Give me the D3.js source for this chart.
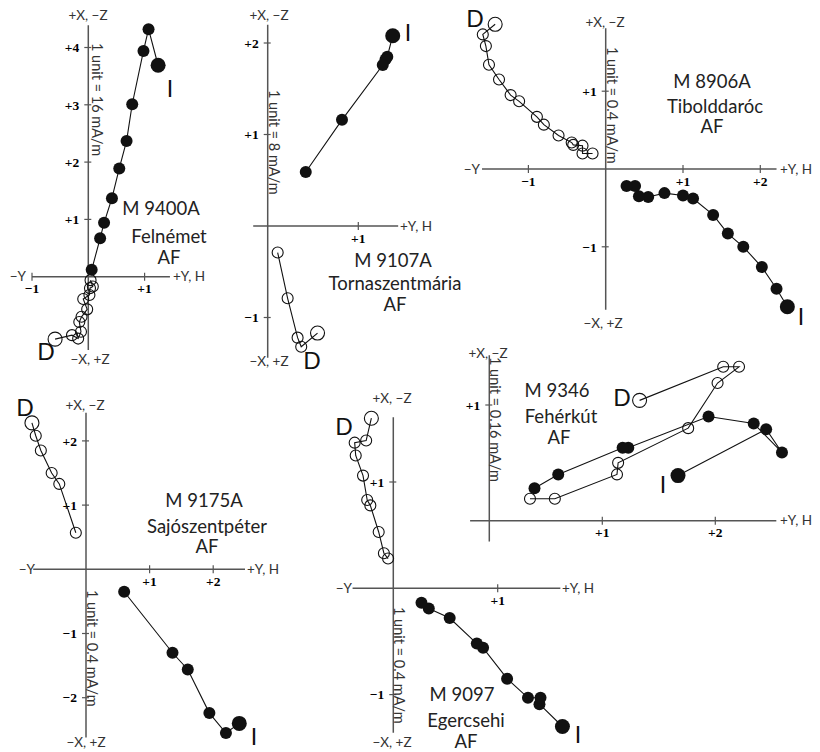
<!DOCTYPE html>
<html><head><meta charset="utf-8">
<script src="https://cdn.jsdelivr.net/npm/d3@7"></script>
<style>body{margin:0;background:#fff}svg{display:block}</style>
</head><body>
<svg id="c" width="820" height="752"></svg>
<script>
// ---------- DATA (units of each diagram: [Y/H , X/-Z]) ----------
// first point of each series = NRM (drawn larger)
const felnemetI = [[1.24,3.69],[1.07,4.32],[0.98,3.94],[0.78,3.01],[0.68,2.37],[0.55,1.89],[0.42,1.37],[0.28,0.94],[0.21,0.67],[0.06,0.12]];
const felnemetD = [[-0.59,-1.09],[-0.29,-1.02],[-0.18,-1.08],[-0.13,-0.96],[-0.16,-0.79],[-0.12,-0.70],[-0.02,-0.57],[-0.09,-0.39],[0.02,-0.32],[0.03,-0.20],[0.08,-0.17],[0.04,-0.06]];

const tornaI = [[1.38,2.08],[1.32,1.85],[1.30,1.82],[1.27,1.76],[0.82,1.16],[0.42,0.59]];
const tornaD = [[0.55,-1.17],[0.37,-1.32],[0.33,-1.22],[0.22,-0.79],[0.11,-0.29]];

const tiboldI = [[2.35,-1.77],[2.21,-1.54],[2.02,-1.26],[1.78,-1.00],[1.58,-0.83],[1.39,-0.59],[1.13,-0.38],[1.00,-0.34],[0.76,-0.31],[0.55,-0.36],[0.43,-0.35],[0.38,-0.22],[0.27,-0.22]];
const tiboldD = [[-1.43,1.86],[-1.59,1.73],[-1.55,1.58],[-1.51,1.34],[-1.38,1.15],[-1.23,0.95],[-1.12,0.87],[-0.89,0.67],[-0.80,0.57],[-0.61,0.43],[-0.44,0.34],[-0.42,0.31],[-0.30,0.30],[-0.30,0.20],[-0.17,0.20]];

const sajoI = [[2.41,-2.40],[2.20,-2.55],[1.94,-2.24],[1.60,-1.56],[1.36,-1.30],[0.60,-0.35]];
const sajoD = [[-0.85,2.28],[-0.79,2.08],[-0.71,1.85],[-0.54,1.50],[-0.42,1.33],[-0.16,0.57]];

const egerI = [[1.62,-1.30],[1.40,-1.09],[1.41,-1.03],[1.29,-1.03],[1.09,-0.85],[0.86,-0.56],[0.80,-0.52],[0.54,-0.28],[0.34,-0.19],[0.27,-0.135]];
const egerD = [[-0.21,1.60],[-0.26,1.39],[-0.37,1.37],[-0.36,1.25],[-0.29,1.06],[-0.25,0.83],[-0.22,0.78],[-0.14,0.53],[-0.09,0.33],[-0.05,0.28]];

const feherI = [[1.67,0.39],[2.45,0.79],[2.59,0.59],[2.34,0.84],[1.94,0.90],[1.23,0.63],[1.18,0.63],[0.61,0.40],[0.40,0.28]];
const feherD = [[1.33,1.04],[2.07,1.33],[2.21,1.33],[2.02,1.19],[1.76,0.80],[1.14,0.50],[1.13,0.40],[0.58,0.19],[0.36,0.19]];

// tick values
const felnemetHTicks = [-1,1],   felnemetVTicks = [1,2,3,4];
const tornaHTicks = [1],         tornaVTicks = [2,1,-1];
const tiboldHTicks = [-1,1,2],   tiboldVTicks = [1,-1];
const sajoHTicks = [1,2],        sajoVTicks = [2,1,-1,-2];
const egerHTicks = [1],          egerVTicks = [1,-1];
const feherHTicks = [1,2],       feherVTicks = [1];

// texts
const felnemetName = ["M 9400A","Felnémet","AF"], felnemetUnit = "1 unit = 16 mA/m";
const tornaName = ["M 9107A","Tornaszentmária","AF"], tornaUnit = "1 unit = 8 mA/m";
const tiboldName = ["M 8906A","Tibolddaróc","AF"], tiboldUnit = "1 unit = 0.4 mA/m";
const sajoName = ["M 9175A","Sajószentpéter","AF"], sajoUnit = "1 unit = 0.4 mA/m";
const egerName = ["M 9097","Egercsehi","AF"], egerUnit = "1 unit = 0.4 mA/m";
const feherName = ["M 9346","Fehérkút","AF"], feherUnit = "1 unit = 0.16 mA/m";

// ---------- LAYOUT ----------
const panels = [
 {I:felnemetI, D:felnemetD, hT:felnemetHTicks, vT:felnemetVTicks, name:felnemetName, unitTxt:felnemetUnit,
  o:[88.3,276.7], u:[56.3,57.3], hExt:[-1.0,1.45], vExt:[-1.28,4.39],
  top:[88,15], bot:[90,359], negY:26, posY:173, nameXY:[[161,215],[169,243],[169,264]],
  unitXY:[97,43], Ilab:[170,89], Dlab:[46,352]},
 {I:tornaI, D:tornaD, hT:tornaHTicks, vT:tornaVTicks, name:tornaName, unitTxt:tornaUnit,
  o:[267.7,226], u:[90.6,91.5], hExt:[-0.16,1.44], vExt:[-1.44,2.2],
  top:[269,15], bot:[269,361], negY:null, posY:400, nameXY:[[393,267],[395,290],[395,311]],
  unitXY:[274,90], Ilab:[408,33], Dlab:[312,361]},
 {I:tiboldI, D:tiboldD, hT:tiboldHTicks, vT:tiboldVTicks, name:tiboldName, unitTxt:tiboldUnit,
  o:[605.7,169], u:[77.3,77.8], hExt:[-1.6,2.21], vExt:[-1.81,1.81],
  top:[605,22], bot:[603,323], negY:480, posY:780, nameXY:[[712,88],[715,113],[712,133]],
  unitXY:[612,47], Ilab:[801,317], Dlab:[475,19]},
 {I:sajoI, D:sajoD, hT:sajoHTicks, vT:sajoVTicks, name:sajoName, unitTxt:sajoUnit,
  o:[86,569.3], u:[63.6,64.2], hExt:[-0.83,2.5], vExt:[-2.62,2.44],
  top:[85,405], bot:[86,742], negY:35, posY:247, nameXY:[[204,507],[207,533],[207,553]],
  unitXY:[92,590], Ilab:[254,737], Dlab:[25,408]},
 {I:egerI, D:egerD, hT:egerHTicks, vT:egerVTicks, name:egerName, unitTxt:egerUnit,
  o:[393.3,588.3], u:[104.4,106.3], hExt:[-0.39,1.6], vExt:[-1.36,1.61],
  top:[392,398], bot:[392,742], negY:352, posY:562, nameXY:[[462,701],[466,727],[466,748]],
  unitXY:[399,607], Ilab:[578,735], Dlab:[344,427]},
 {I:feherI, D:feherD, hT:feherHTicks, vT:feherVTicks, name:feherName, unitTxt:feherUnit,
  o:[489.3,520.7], u:[113,115.7], hExt:[-0.17,2.54], vExt:[-0.18,1.43],
  top:[488,353], bot:null, negY:null, posY:780, nameXY:[[557,397],[561,423],[559,444]],
  unitXY:[495,357], Ilab:[663,485], Dlab:[622,398]}
];

const svg = d3.select("#c");
const fmt = v => (v > 0 ? "+" : "\u2212") + Math.abs(v);
const axisCol = "#555";
const textFont = "Lato, 'Open Sans', sans-serif";
const tickFont = "'Liberation Serif', 'DejaVu Serif', serif";

panels.forEach(p => {
  const g = svg.append("g");
  const x = d3.scaleLinear().domain([0,1]).range([p.o[0], p.o[0]+p.u[0]]);
  const y = d3.scaleLinear().domain([0,1]).range([p.o[1], p.o[1]-p.u[1]]);

  // axes
  g.append("line").attr("x1",x(p.hExt[0])).attr("x2",x(p.hExt[1])).attr("y1",y(0)).attr("y2",y(0))
    .attr("stroke",axisCol).attr("stroke-width",1.5);
  g.append("line").attr("x1",x(0)).attr("x2",x(0)).attr("y1",y(p.vExt[0])).attr("y2",y(p.vExt[1]))
    .attr("stroke",axisCol).attr("stroke-width",1.5);

  // ticks
  p.hT.forEach(t => {
    g.append("line").attr("x1",x(t)).attr("x2",x(t)).attr("y1",y(0)-4).attr("y2",y(0)+4)
      .attr("stroke",axisCol).attr("stroke-width",1.2);
    g.append("text").attr("x",x(t)).attr("y",y(0)+12).attr("dy","0.35em")
      .attr("text-anchor","middle").attr("font-family",tickFont)
      .attr("font-weight","bold").attr("font-size",13.5).text(fmt(t));
  });
  p.vT.forEach(t => {
    g.append("line").attr("x1",x(0)-4).attr("x2",x(0)+3).attr("y1",y(t)).attr("y2",y(t))
      .attr("stroke",axisCol).attr("stroke-width",1.2);
    g.append("text").attr("x",x(0)-9).attr("y",y(t)).attr("dy","0.35em")
      .attr("text-anchor","end").attr("font-family",tickFont)
      .attr("font-weight","bold").attr("font-size",13.5).text(fmt(t));
  });

  // axis labels
  const lab = (xx,yy,txt,anchor) => g.append("text").attr("x",xx).attr("y",yy).attr("dy","0.35em")
      .attr("text-anchor",anchor).attr("font-family",textFont).attr("font-size",13.5)
      .attr("fill","#333").text(txt);
  lab(p.top[0], p.top[1], "+X, \u2212Z", "middle");
  if (p.bot) lab(p.bot[0], p.bot[1], "\u2212X, +Z", "middle");
  if (p.negY !== null) lab(p.negY, y(0), "\u2212Y", "end");
  lab(p.posY, y(0), "+Y, H", "start");

  // unit text (rotated)
  g.append("text").attr("transform",`translate(${p.unitXY[0]},${p.unitXY[1]}) rotate(90)`)
    .attr("dy","0.35em").attr("text-anchor","start").attr("font-family",textFont)
    .attr("font-size",14.5).attr("fill","#333").text(p.unitTxt);

  // names (y = baseline)
  p.name.forEach((t,i) => {
    g.append("text").attr("x",p.nameXY[i][0]).attr("y",p.nameXY[i][1])
      .attr("text-anchor","middle").attr("font-family",textFont).attr("font-size",18.5)
      .attr("fill","#222").text(t);
  });

  // I / D labels
  [["I",p.Ilab],["D",p.Dlab]].forEach(([t,pos]) => {
    g.append("text").attr("x",pos[0]).attr("y",pos[1]).attr("dy","0.36em")
      .attr("text-anchor","middle").attr("font-family",textFont).attr("font-size",23)
      .attr("fill","#111").text(t);
  });

  // series
  const line = d3.line().x(d => x(d[0])).y(d => y(d[1]));
  g.append("path").attr("d",line(p.D)).attr("fill","none").attr("stroke","#111").attr("stroke-width",1.1);
  g.append("path").attr("d",line(p.I)).attr("fill","none").attr("stroke","#111").attr("stroke-width",1.1);

  g.selectAll(null).data(p.D).enter().append("circle")
    .attr("cx",d => x(d[0])).attr("cy",d => y(d[1])).attr("r",(d,i) => i===0 ? 7 : 5.5)
    .attr("fill","none").attr("stroke","#111").attr("stroke-width",1.1);
  g.selectAll(null).data(p.I).enter().append("circle")
    .attr("cx",d => x(d[0])).attr("cy",d => y(d[1])).attr("r",(d,i) => i===0 ? 7.5 : 6)
    .attr("fill","#111");
});
</script>
</body></html>
